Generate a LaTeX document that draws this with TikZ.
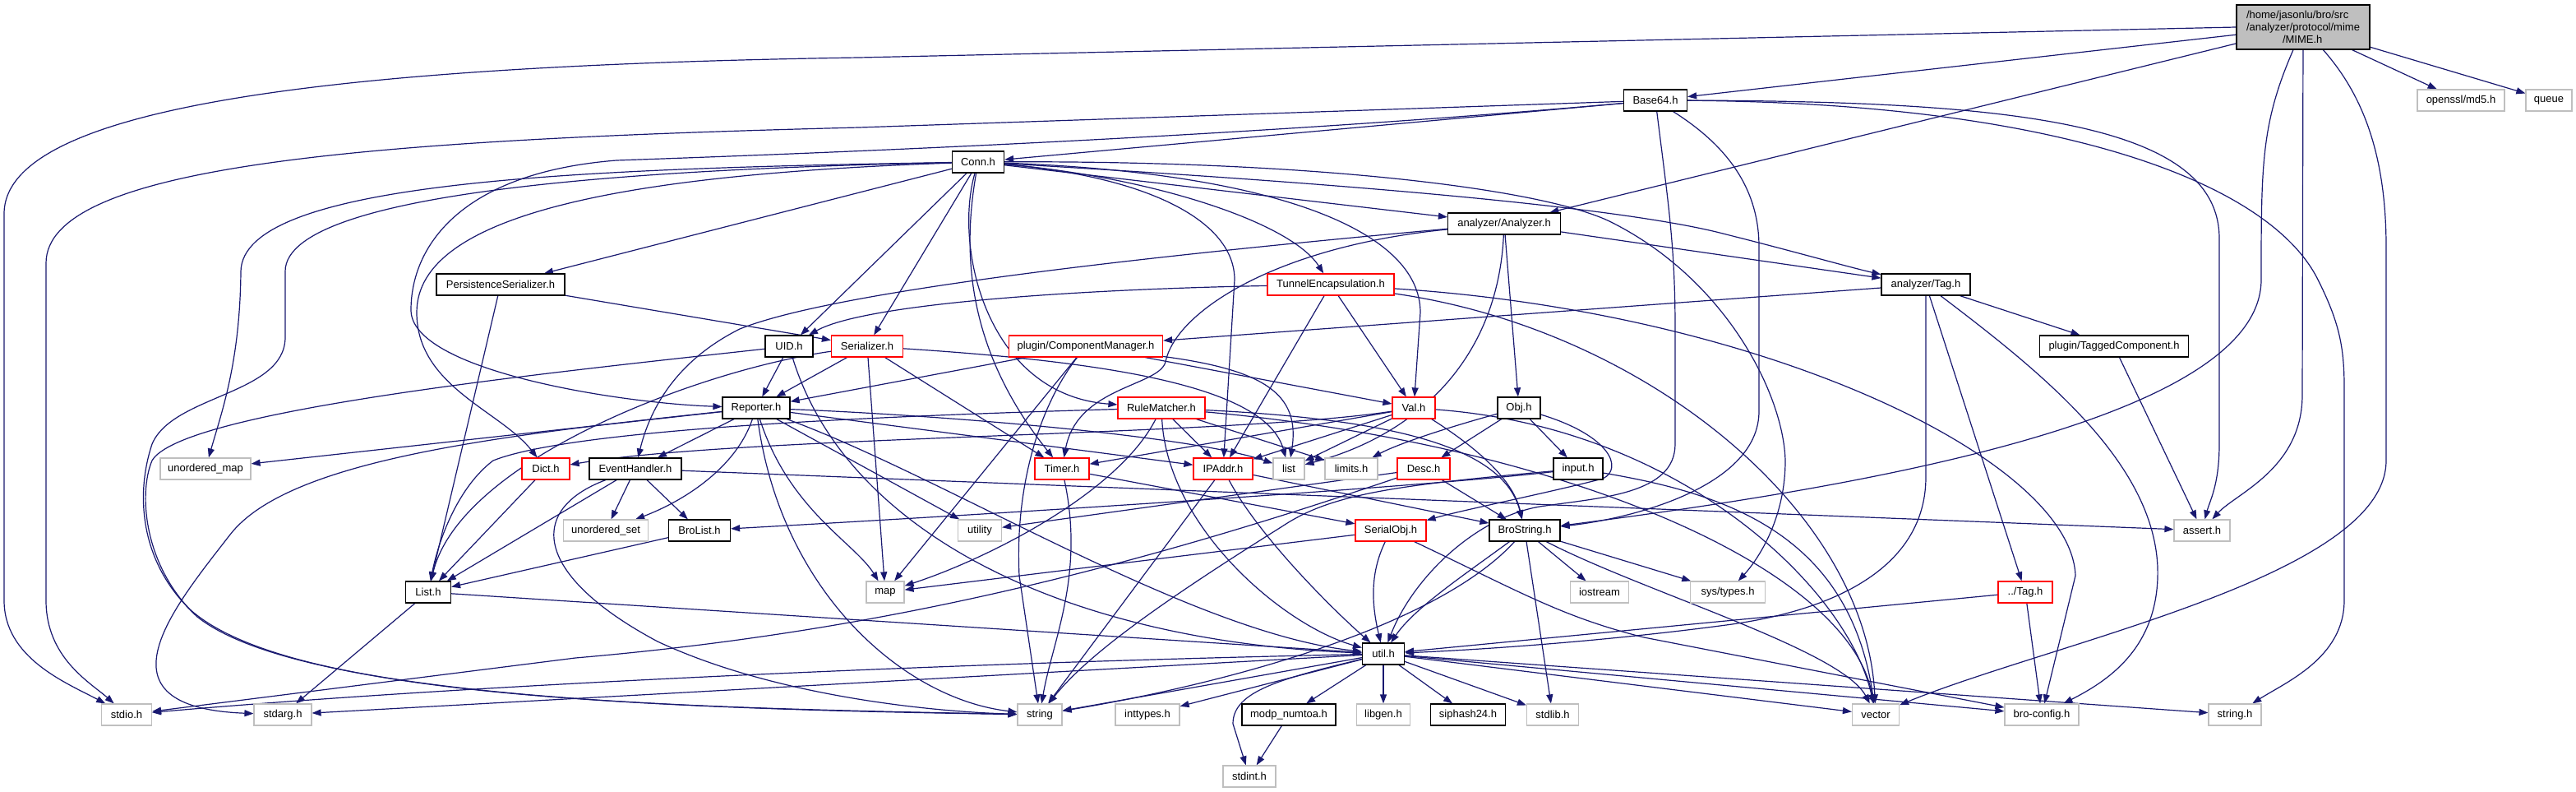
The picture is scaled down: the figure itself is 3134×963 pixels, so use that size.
\documentclass[tikz,border=0pt]{standalone}
\usepackage{fontspec}
\setmainfont{Liberation Sans}
\usetikzlibrary{arrows.meta}
\definecolor{eblue}{HTML}{191970}
\definecolor{gborder}{HTML}{BFBFBF}
\definecolor{mimefill}{HTML}{BFBFBF}
\pgfdeclarelayer{bg}
\pgfdeclarelayer{paper}
\pgfsetlayers{paper,bg,main}
\begin{document}
\begin{tikzpicture}[x=0.5pt,y=-0.5pt,
  nd/.style={rectangle, font=\fontsize{6.5pt}{7.5pt}\selectfont, inner sep=0pt, minimum height=13pt, line width=0.6pt, fill=white, text=black},
  bn/.style={nd, draw=black},
  rn/.style={nd, draw=red},
  gn/.style={nd, draw=gborder},
  e/.style={draw=eblue, line width=0.6pt, -{Triangle[length=5.5pt,width=4pt]}},
]
\useasboundingbox (0,0) rectangle (3134,963);
\begin{pgfonlayer}{paper}
\fill[white] (0,0) rectangle (3134,963);
\end{pgfonlayer}
% ---------- nodes ----------
\node[bn, fill=mimefill, minimum width=81pt, minimum height=27pt, align=left] (MIME) at (2802,33) {/home/jasonlu/bro/src\\/analyzer/protocol/mime\\\hspace*{22pt}/MIME.h};
\node[gn, minimum width=53pt] (md5) at (2994,122) {openssl/md5.h};
\node[gn, minimum width=28pt] (queue) at (3101,122) {queue};
\node[bn, minimum width=38.5pt] (B64) at (2014,122) {Base64.h};
\node[bn, minimum width=31.5pt] (Conn) at (1190,197) {Conn.h};
\node[bn, minimum width=68.5pt] (Anl) at (1830,272) {analyzer/Analyzer.h};
\node[bn, minimum width=78pt] (PS) at (609,346) {PersistenceSerializer.h};
\node[rn, minimum width=77pt] (TE) at (1619,346) {TunnelEncapsulation.h};
\node[bn, minimum width=54pt] (aTag) at (2343,346) {analyzer/Tag.h};
\node[bn, minimum width=29pt] (UID) at (960,421) {UID.h};
\node[rn, minimum width=43.5pt] (Ser) at (1055,421) {Serializer.h};
\node[rn, minimum width=93.5pt] (CM) at (1321,421) {plugin/ComponentManager.h};
\node[bn, minimum width=90.5pt] (TC) at (2572,421) {plugin/TaggedComponent.h};
\node[bn, minimum width=41pt] (Rep) at (920,496) {Reporter.h};
\node[rn, minimum width=53pt] (RM) at (1413,496) {RuleMatcher.h};
\node[rn, minimum width=26pt] (Val) at (1720,496) {Val.h};
\node[bn, minimum width=26pt] (Obj) at (1848,496) {Obj.h};
\node[gn, minimum width=55pt] (umap) at (250,570) {unordered\_map};
\node[rn, minimum width=29pt] (Dict) at (664,570) {Dict.h};
\node[bn, minimum width=56pt] (EH) at (773,570) {EventHandler.h};
\node[rn, minimum width=33pt] (Timer) at (1292,570) {Timer.h};
\node[rn, minimum width=36pt] (IP) at (1488,570) {IPAddr.h};
\node[gn, minimum width=19pt] (list) at (1568,570) {list};
\node[gn, minimum width=32pt] (limits) at (1644,570) {limits.h};
\node[rn, minimum width=32pt] (Desc) at (1732,570) {Desc.h};
\node[bn, minimum width=30pt] (input) at (1920,570) {input.h};
\node[gn, minimum width=51.5pt] (uset) at (737,645) {unordered\_set};
\node[bn, minimum width=37.5pt] (BroList) at (851,645) {BroList.h};
\node[gn, minimum width=26.5pt] (utility) at (1192,645) {utility};
\node[rn, minimum width=43pt] (SObj) at (1692,645) {SerialObj.h};
\node[bn, minimum width=43pt] (BStr) at (1855,645) {BroString.h};
\node[gn, minimum width=34pt] (assert) at (2679,645) {assert.h};
\node[bn, minimum width=27.5pt] (List) at (521,720) {List.h};
\node[gn, minimum width=23pt] (map) at (1077,720) {map};
\node[gn, minimum width=35.5pt] (iostream) at (1946,720) {iostream};
\node[gn, minimum width=45.5pt] (systypes) at (2102,720) {sys/types.h};
\node[rn, minimum width=33pt] (Tag) at (2464,720) {../Tag.h};
\node[bn, minimum width=25.5pt] (util) at (1683,795) {util.h};
\node[gn, minimum width=30.5pt] (stdio) at (154,869) {stdio.h};
\node[gn, minimum width=35pt] (stdarg) at (344,869) {stdarg.h};
\node[gn, minimum width=27pt] (string) at (1265,869) {string};
\node[gn, minimum width=39pt] (inttypes) at (1396,869) {inttypes.h};
\node[bn, minimum width=57pt] (modp) at (1568,869) {modp\_numtoa.h};
\node[gn, minimum width=32.5pt] (libgen) at (1683,869) {libgen.h};
\node[bn, minimum width=45.5pt] (siphash) at (1786,869) {siphash24.h};
\node[gn, minimum width=31.5pt] (stdlib) at (1889,869) {stdlib.h};
\node[gn, minimum width=28.5pt] (vector) at (2282,869) {vector};
\node[gn, minimum width=45pt] (bconf) at (2484,869) {bro-config.h};
\node[gn, minimum width=32pt] (stringh) at (2719,869) {string.h};
\node[gn, minimum width=32pt] (stdint) at (1520,944) {stdint.h};
% ---------- edges ----------
\begin{pgfonlayer}{bg}
% MIME.h
\draw[e] (MIME) -- (md5);
\draw[e] (MIME) -- (queue);
\draw[e] (MIME) -- (B64);
\draw[e] (MIME) -- (Anl);
\draw[e] (MIME.west) -- (1045,70) .. controls (400,80) and (5,130) .. (5,260) -- (5,730) .. controls (5,800) and (80,830) .. (stdio);
\draw[e] (MIME) .. controls (2751,150) and (2751,200) .. (2751,340) .. controls (2751,520) and (2200,600) .. (BStr);
\draw[e] (MIME) -- (2801,480) .. controls (2801,570) and (2720,600) .. (assert);
\draw[e] (MIME) .. controls (2870,110) and (2903,180) .. (2903,300) -- (2903,560) .. controls (2903,700) and (2500,780) .. (vector);
% Base64.h
\draw[e] (B64) -- (Conn);
\draw[e] (B64) -- (1045,155) .. controls (450,170) and (56,200) .. (56,320) -- (56,730) .. controls (56,800) and (110,830) .. (stdio);
\draw[e] (B64) .. controls (1500,168) and (950,188) .. (750,195) .. controls (560,210) and (500,300) .. (500,377) .. controls (500,450) and (750,490) .. (Rep);
\draw[e] (B64) .. controls (2030,250) and (2038,300) .. (2038,400) -- (2038,540) .. controls (2038,600) and (1950,605) .. (1880,615) .. controls (1800,625) and (1720,700) .. (util);
\draw[e] (B64) .. controls (2090,170) and (2140,220) .. (2140,300) -- (2140,500) .. controls (2140,590) and (1990,630) .. (BStr);
\draw[e] (B64) .. controls (2450,123) and (2700,150) .. (2700,290) -- (2700,540) .. controls (2700,590) and (2688,610) .. (assert);
\draw[e] (B64) .. controls (2500,125) and (2760,220) .. (2820,340) .. controls (2845,390) and (2852,420) .. (2852,470) -- (2852,730) .. controls (2852,800) and (2780,830) .. (stringh);
% Conn.h
\draw[e] (Conn) -- (PS);
\draw[e] (Conn) -- (UID);
\draw[e] (Conn) -- (Ser);
\draw[e] (Conn) .. controls (1172,300) and (1172,420) .. (Timer);
\draw[e] (Conn) .. controls (1160,300) and (1200,480) .. (RM);
\draw[e] (Conn) .. controls (700,205) and (295,220) .. (293,330) .. controls (292,440) and (270,500) .. (umap);
\draw[e] (Conn) .. controls (800,205) and (347,230) .. (347,330) -- (347,410) .. controls (347,480) and (210,480) .. (185,540) .. controls (165,600) and (170,680) .. (230,740) .. controls (350,850) and (800,860) .. (string);
\draw[e] (Conn) .. controls (760,212) and (507,260) .. (507,380) .. controls (507,470) and (610,500) .. (Dict);
\draw[e] (Conn) -- (Anl);
\draw[e] (Conn) .. controls (1500,215) and (1950,245) .. (2100,285) .. controls (2180,305) and (2250,325) .. (aTag);
\draw[e] (Conn) .. controls (1600,195) and (1880,230) .. (1960,270) .. controls (2100,340) and (2170,480) .. (2172,560) .. controls (2172,640) and (2130,690) .. (systypes);
\draw[e] (Conn) .. controls (1400,215) and (1570,270) .. (TE);
\draw[e] (Conn) .. controls (1550,210) and (1728,280) .. (1728,380) -- (Val);
\draw[e] (Conn) .. controls (1400,215) and (1502,270) .. (1502,340) -- (IP);
% analyzer/Analyzer.h
\draw[e] (Anl) -- (aTag);
\draw[e] (Anl) -- (Obj);
\draw[e] (Anl) .. controls (1822,440) and (1720,530) .. (list);
\draw[e] (Anl) .. controls (1300,320) and (1000,360) .. (900,400) .. controls (820,440) and (790,500) .. (EH);
\draw[e] (Anl) .. controls (1550,300) and (1430,380) .. (1418,440) .. controls (1410,470) and (1310,470) .. (Timer);
% TunnelEncapsulation.h
\draw[e] (TE) .. controls (1300,352) and (1050,370) .. (UID);
\draw[e] (TE) -- (IP);
\draw[e] (TE) -- (Val);
\draw[e] (TE) .. controls (2000,400) and (2270,620) .. (vector);
\draw[e] (TE) .. controls (2150,380) and (2520,560) .. (2525,700) -- (bconf);
% analyzer/Tag.h
\draw[e] (aTag) -- (CM);
\draw[e] (aTag) -- (TC);
\draw[e] (aTag) -- (Tag);
\draw[e] (aTag) -- (2343,580) .. controls (2343,680) and (2250,740) .. (2100,760) .. controls (1950,780) and (1800,790) .. (util);
\draw[e] (aTag) .. controls (2480,450) and (2620,560) .. (2625,690) .. controls (2628,790) and (2560,830) .. (bconf);
\draw[e] (TC) -- (assert);
% plugin/ComponentManager.h
\draw[e] (CM) -- (Rep);
\draw[e] (CM) -- (Val);
\draw[e] (CM) .. controls (1540,450) and (1582,480) .. (list);
\draw[e] (CM) -- (map);
\draw[e] (CM) .. controls (1260,500) and (1235,600) .. (1240,700) -- (string);
% Reporter.h
\draw[e] (Rep) -- (EH);
\draw[e] (Rep) .. controls (895,570) and (830,610) .. (uset);
\draw[e] (Rep) -- (umap);
\draw[e] (Rep) .. controls (600,530) and (350,560) .. (280,650) .. controls (210,740) and (110,860) .. (stdarg);
\draw[e] (Rep) .. controls (1150,505) and (1450,530) .. (list);
\draw[e] (Rep) -- (utility);
\draw[e] (Rep) -- (IP);
\draw[e] (Rep) .. controls (960,620) and (1040,660) .. (map);
\draw[e] (Rep) .. controls (950,720) and (1100,850) .. (string);
\draw[e] (Rep) .. controls (1150,580) and (1450,770) .. (util);
% UID.h
\draw[e] (UID) -- (Rep);
\draw[e] (UID) .. controls (650,455) and (220,500) .. (185,560) .. controls (168,600) and (175,690) .. (240,750) .. controls (360,845) and (800,862) .. (string);
\draw[e] (UID) .. controls (1030,650) and (1300,780) .. (util);
% Serializer.h
\draw[e] (Ser) -- (Rep);
\draw[e] (Ser) -- (Timer);
\draw[e] (Ser) -- (map);
\draw[e] (Ser) .. controls (1350,440) and (1540,470) .. (list);
\draw[e] (Ser) .. controls (850,450) and (560,560) .. (List);
% PersistenceSerializer.h
\draw[e] (PS) -- (Ser);
\draw[e] (PS) -- (List);
% RuleMatcher.h
\draw[e] (RM) .. controls (1100,505) and (700,520) .. (600,560) .. controls (560,590) and (535,650) .. (List);
\draw[e] (RM) .. controls (1360,600) and (1200,680) .. (map);
\draw[e] (RM) .. controls (1420,640) and (1560,760) .. (util);
\draw[e] (RM) -- (IP);
\draw[e] (RM) -- (limits);
\draw[e] (RM) .. controls (1900,540) and (2250,690) .. (vector);
\draw[e] (RM) .. controls (1700,510) and (1830,545) .. (BStr);
% Val.h
\draw[e] (Val) .. controls (1500,530) and (900,530) .. (Dict);
\draw[e] (Val) -- (Timer);
\draw[e] (Val) -- (IP);
\draw[e] (Val) -- (list);
\draw[e] (Val) .. controls (1790,540) and (1840,580) .. (BStr);
\draw[e] (Val) .. controls (2050,520) and (2250,720) .. (vector);
% Obj.h
\draw[e] (Obj) -- (Desc);
\draw[e] (Obj) -- (input);
\draw[e] (Obj) .. controls (1760,520) and (1700,540) .. (limits);
\draw[e] (Obj) .. controls (1960,530) and (1975,570) .. (1950,582) .. controls (1880,600) and (1780,620) .. (SObj);
% Desc.h
\draw[e] (Desc) -- (utility);
\draw[e] (Desc) .. controls (1350,700) and (1050,770) .. (700,800) -- (stdio);
\draw[e] (Desc) -- (BStr);
% input.h
\draw[e] (input) .. controls (1750,590) and (1300,620) .. (BroList);
\draw[e] (input) .. controls (2100,600) and (2250,650) .. (vector);
\draw[e] (input) .. controls (1700,590) and (1620,600) .. (1560,640) .. controls (1400,740) and (1320,800) .. (string);
% EventHandler.h
\draw[e] (EH) -- (uset);
\draw[e] (EH) -- (BroList);
\draw[e] (EH) -- (List);
\draw[e] (EH) .. controls (640,620) and (650,700) .. (800,780) .. controls (950,850) and (1150,866) .. (string);
\draw[e] (EH) -- (assert);
% BroList.h, Dict.h, List.h
\draw[e] (BroList) -- (List);
\draw[e] (Dict) -- (List);
\draw[e] (List) -- (stdarg);
\draw[e] (List) -- (util);
% Timer.h, IPAddr.h
\draw[e] (Timer) -- (SObj);
\draw[e] (Timer) .. controls (1320,700) and (1280,780) .. (string);
\draw[e] (IP) -- (string);
\draw[e] (IP) .. controls (1530,650) and (1620,740) .. (util);
\draw[e] (IP) -- (BStr);
% SerialObj.h
\draw[e] (SObj) -- (map);
\draw[e] (SObj) .. controls (1665,700) and (1670,740) .. (util);
\draw[e] (SObj) .. controls (1850,720) and (1900,750) .. (2000,775) -- (bconf);
% BroString.h
\draw[e] (BStr) .. controls (1780,700) and (1720,740) .. (util);
\draw[e] (BStr) -- (iostream);
\draw[e] (BStr) -- (systypes);
\draw[e] (BStr) -- (stdlib);
\draw[e] (BStr) .. controls (2000,720) and (2240,790) .. (vector);
\draw[e] (BStr) .. controls (1750,760) and (1500,830) .. (string);
% ../Tag.h
\draw[e] (Tag) -- (util);
\draw[e] (Tag) -- (bconf);
% util.h
\draw[e] (util) -- (string);
\draw[e] (util) -- (inttypes);
\draw[e] (util) -- (modp);
\draw[e] (util) -- (libgen);
\draw[e] (util) -- (siphash);
\draw[e] (util) -- (stdlib);
\draw[e] (util) .. controls (1560,825) and (1500,840) .. (1500,880) -- (stdint);
\draw[e] (util) .. controls (1200,805) and (600,830) .. (stdio);
\draw[e] (util) -- (stdarg);
\draw[e] (util) -- (vector);
\draw[e] (util) -- (bconf);
\draw[e] (util) -- (stringh);
\draw[e] (modp) -- (stdint);
\end{pgfonlayer}
\end{tikzpicture}
\end{document}
